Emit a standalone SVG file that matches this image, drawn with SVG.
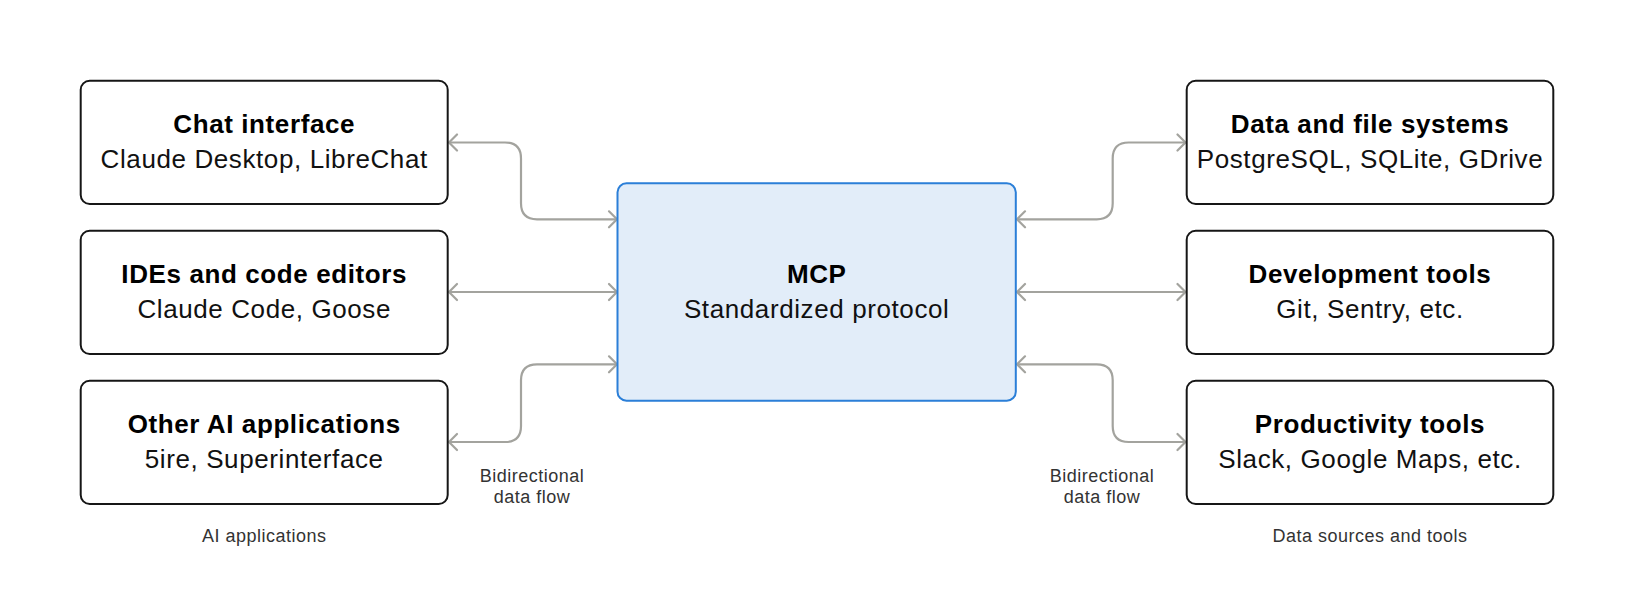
<svg xmlns="http://www.w3.org/2000/svg" width="1626" height="597" viewBox="0 0 1626 597">
  <style>
    .box { fill: #ffffff; stroke: #161616; stroke-width: 2; }
    .mcp { fill: #e2edf9; stroke: #2b7fd8; stroke-width: 2; }
    .title { font-family: "Liberation Sans", Arial, sans-serif; font-weight: bold; font-size: 26px; letter-spacing: 0.6px; fill: #000000; text-anchor: middle; }
    .sub { font-family: "Liberation Sans", Arial, sans-serif; font-size: 26px; letter-spacing: 0.6px; fill: #111111; text-anchor: middle; }
    .label { font-family: "Liberation Sans", Arial, sans-serif; font-size: 18px; letter-spacing: 0.5px; fill: #333333; text-anchor: middle; }
    .conn { fill: none; stroke: #a3a39e; stroke-width: 2.2; }
  </style>
  <defs>
    <marker id="chev" viewBox="0 0 12 20" refX="10" refY="10" markerWidth="12" markerHeight="20" markerUnits="userSpaceOnUse" orient="auto-start-reverse">
      <path d="M2,2 L10,10 L2,18" fill="none" stroke="#a3a39e" stroke-width="2.2" stroke-linecap="round" stroke-linejoin="round"/>
    </marker>
  </defs>
  <rect width="1626" height="597" fill="#ffffff"/>

  <g id="connectors">
    <path class="conn" marker-start="url(#chev)" marker-end="url(#chev)" d="M449,142.5 H505 Q521,142.5 521,158.5 V203.3 Q521,219.3 537,219.3 H617"/>
    <path class="conn" marker-start="url(#chev)" marker-end="url(#chev)" d="M449,292 H617"/>
    <path class="conn" marker-start="url(#chev)" marker-end="url(#chev)" d="M617,364.3 H537 Q521,364.3 521,380.3 V426 Q521,442 505,442 H449"/>
    <path class="conn" marker-start="url(#chev)" marker-end="url(#chev)" d="M1017,219.3 H1096.7 Q1112.7,219.3 1112.7,203.3 V158.5 Q1112.7,142.5 1128.7,142.5 H1185.5"/>
    <path class="conn" marker-start="url(#chev)" marker-end="url(#chev)" d="M1017,292 H1185.5"/>
    <path class="conn" marker-start="url(#chev)" marker-end="url(#chev)" d="M1017,364.3 H1096.7 Q1112.7,364.3 1112.7,380.3 V426 Q1112.7,442 1128.7,442 H1185.5"/>
  </g>

  <g id="chat-interface">
    <rect class="box" x="80.7" y="80.7" width="367" height="123.3" rx="9"/>
    <text class="title" x="264.2" y="132.7">Chat interface</text>
    <text class="sub" x="264.2" y="168.3">Claude Desktop, LibreChat</text>
  </g>
  <g id="ides">
    <rect class="box" x="80.7" y="230.7" width="367" height="123.3" rx="9"/>
    <text class="title" x="264.2" y="282.7">IDEs and code editors</text>
    <text class="sub" x="264.2" y="318.3">Claude Code, Goose</text>
  </g>
  <g id="other-ai">
    <rect class="box" x="80.7" y="380.7" width="367" height="123.3" rx="9"/>
    <text class="title" x="264.2" y="432.7">Other AI applications</text>
    <text class="sub" x="264.2" y="468.3">5ire, Superinterface</text>
  </g>

  <g id="mcp">
    <rect class="mcp" x="617.5" y="183.3" width="398.3" height="217.4" rx="9"/>
    <text class="title" x="816.7" y="282.7">MCP</text>
    <text class="sub" x="816.7" y="318.3">Standardized protocol</text>
  </g>

  <g id="data-files">
    <rect class="box" x="1186.7" y="80.7" width="366.6" height="123.3" rx="9"/>
    <text class="title" x="1370" y="132.7">Data and file systems</text>
    <text class="sub" x="1370" y="168.3">PostgreSQL, SQLite, GDrive</text>
  </g>
  <g id="dev-tools">
    <rect class="box" x="1186.7" y="230.7" width="366.6" height="123.3" rx="9"/>
    <text class="title" x="1370" y="282.7">Development tools</text>
    <text class="sub" x="1370" y="318.3">Git, Sentry, etc.</text>
  </g>
  <g id="productivity">
    <rect class="box" x="1186.7" y="380.7" width="366.6" height="123.3" rx="9"/>
    <text class="title" x="1370" y="432.7">Productivity tools</text>
    <text class="sub" x="1370" y="468.3">Slack, Google Maps, etc.</text>
  </g>

  <g id="labels">
    <text class="label" x="532" y="481.7">Bidirectional</text>
    <text class="label" x="532" y="503.3">data flow</text>
    <text class="label" x="1102" y="481.7">Bidirectional</text>
    <text class="label" x="1102" y="503.3">data flow</text>
    <text class="label" x="264.2" y="541.7">AI applications</text>
    <text class="label" x="1370" y="541.7">Data sources and tools</text>
  </g>
</svg>
